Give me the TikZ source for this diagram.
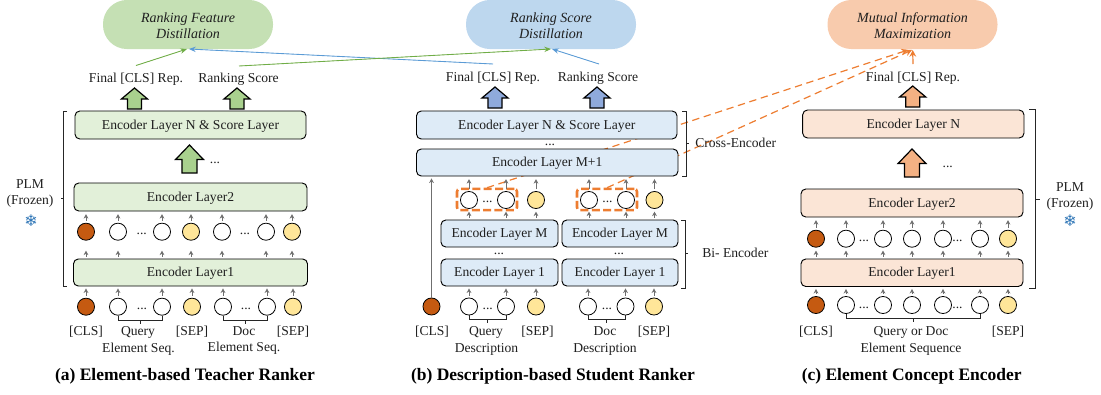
\documentclass[tikz,border=0pt]{standalone}
\usepackage{fontspec}
\setmainfont{Liberation Serif}
\newfontfamily\symfont{DejaVu Sans}
\usetikzlibrary{arrows.meta,calc}
\definecolor{txt}{HTML}{1F1F1F}
\definecolor{gpill}{HTML}{C5E0B4}\definecolor{gbox}{HTML}{E2F0D9}\definecolor{garr}{HTML}{A9D18E}\definecolor{gline}{HTML}{70AD47}
\definecolor{bpill}{HTML}{BDD7EE}\definecolor{bbox}{HTML}{DEEBF7}\definecolor{barr}{HTML}{8FAADC}\definecolor{bline}{HTML}{5B9BD5}
\definecolor{opill}{HTML}{F8CBAD}\definecolor{obox}{HTML}{FBE5D6}\definecolor{oarr}{HTML}{F4B183}\definecolor{oline}{HTML}{ED7D31}
\definecolor{clsc}{HTML}{C55A11}\definecolor{sepc}{HTML}{FFE699}\definecolor{tgray}{HTML}{6F6F6F}\definecolor{flakec}{HTML}{2E75B6}
\newcommand{\blockarr}[5]{%
  \draw[line width=.9pt,fill=#5] (#1,#2) -- (#1+#3,#2+#4*.52) -- (#1+#3*.54,#2+#4*.52) -- (#1+#3*.54,#2+#4) -- (#1-#3*.54,#2+#4) -- (#1-#3*.54,#2+#4*.52) -- (#1-#3,#2+#4*.52) -- cycle;}
\newcommand{\boxat}[6]{\node[enc,fill=#6,minimum width=(#3-#2)*.75pt,minimum height=(#5-#4)*.75pt] (#1) at ({(#2+#3)/2},{(#4+#5)/2}) {\strut};}
\newcommand{\pilltop}{\rule{0pt}{9.8pt}}
\tikzset{
 x=.75pt,y=-.75pt,
 lab/.style={inner sep=0pt,text=txt,font=\fontsize{10.2}{11}\selectfont,text height=6.6pt,text depth=2pt,align=center,yshift=-.8pt},
 enc/.style={draw=black,line width=.7pt,rounded corners=3.6pt,inner sep=0pt,text=txt,font=\fontsize{9.6}{11}\selectfont},
 pill/.style={rounded corners=18pt,inner sep=0pt,text=txt,align=center,font=\fontsize{10.5}{12}\selectfont\itshape},
 tok/.style={circle,draw=black,line width=.6pt,minimum size=12.8pt,inner sep=0pt},
 el/.style={tok,fill=white},
 cls/.style={tok,fill=clsc},
 sep/.style={tok,fill=sepc},
 tarrow/.style={draw=tgray,line width=.75pt,-{Stealth[length=3.4pt,width=3.6pt]},shorten <=1.5pt,shorten >=1.5pt},
 brk/.style={draw=black!85,line width=.6pt},
 dash box/.style={draw=oline,line width=1.9pt,dash pattern=on 6pt off 2.5pt,rounded corners=2pt},
 odash/.style={draw=oline,line width=.9pt,dash pattern=on 5.5pt off 3.5pt,-{Stealth[length=5pt,width=5pt]}},
 thinl/.style={line width=.65pt,-{Stealth[length=5pt,width=4pt]}},
 title/.style={inner sep=0pt,text=black,font=\fontsize{13.1}{15}\selectfont\bfseries},
 flake/.style={inner sep=0pt,text=flakec,font=\symfont\fontsize{12}{14}\selectfont},
}
\begin{document}
\begin{tikzpicture}
\useasboundingbox (0,0) rectangle (1101,394);
% pills
\node[pill,fill=gpill,minimum width=127.5pt,minimum height=36.8pt] (pa) at (188,24.5) {\pilltop Ranking Feature\\Distillation};
\node[pill,fill=bpill,minimum width=127.5pt,minimum height=36.8pt] (pb) at (551,24.5) {\pilltop Ranking Score\\Distillation};
\node[pill,fill=opill,minimum width=127.5pt,minimum height=36.8pt] (pc) at (912.5,24.5) {\pilltop Mutual Information\\Maximization};
% labels on top
\node[lab] (fa) at (136,78) {Final [CLS] Rep.};
\node[lab] (ra) at (238.5,78) {Ranking Score};
\node[lab] (fb) at (493,77) {Final [CLS] Rep.};
\node[lab] (rb) at (598,77) {Ranking Score};
\node[lab] (fc) at (913,77) {Final [CLS] Rep.};
\coordinate (fat) at (136,65.5);
\coordinate (rat) at (239,66);
\coordinate (fbt) at (493,64);
\coordinate (rbt) at (599,64);
\coordinate (fct) at (913,64);
\coordinate (ta) at (187,49);
\coordinate (ta2) at (189,49);
\coordinate (tb) at (551,49);
\coordinate (tb2) at (552,49);
\draw[thinl,draw=gline,fill=gline] (fat) -- (ta);
\draw[thinl,draw=bline,fill=bline] (fbt) -- (ta2);
\draw[thinl,draw=gline,fill=gline] (rat) -- (tb);
\draw[thinl,draw=bline,fill=bline] (rbt) -- (tb2);
% orange dashed, behind the boxes
\node[dash box,minimum width=45pt,minimum height=15.8pt,inner sep=0pt] (da) at (487,199.5) {};
\node[dash box,minimum width=45pt,minimum height=15.8pt,inner sep=0pt] (db) at (607,199.5) {};
\coordinate (mi1) at (908,50);
\coordinate (mi2) at (912,50);
\coordinate (mi3) at (912.7,50);
\draw[odash] (da.north) -- (mi1);
\draw[odash] (db.north) -- (mi2);
\draw[draw=oline,line width=.9pt,-{Stealth[length=5pt,width=5pt]}] (fct) -- (mi3);
% ---------- panel a
\blockarr{134.5}{88}{13}{21}{garr}
\blockarr{237}{88}{13}{21}{garr}
\blockarr{189.5}{145}{14}{28}{garr}
\boxat{an}{75}{306}{111}{139}{gbox}
\node[lab] (tan) at (an) {Encoder Layer N \& Score Layer};
\node[lab] (adots) at (215,159) {...};
\boxat{a2}{74}{307}{183}{211}{gbox}
\node[lab] (ta2t) at (a2) {Encoder Layer2};
\boxat{a1}{73.5}{307.5}{259}{286}{gbox}
\node[lab] (ta1t) at (a1) {Encoder Layer1};
\foreach \n/\x/\s in {1/86/cls,2/118/el,3/162/el,4/191/sep,5/222/el,6/266/el,7/292/sep}{
  \node[\s] (ar\n) at (\x,231.7) {};
  \draw[tarrow,shorten >=2pt] (ar\n.north) -- (ar\n.north |- a2.south);
  \draw[tarrow,shorten >=7.5pt] (ar\n.south |- a1.north) -- (ar\n.south);
}
\foreach \n/\x/\s in {1/86/cls,2/118/el,3/162/el,4/192/sep,5/223/el,6/267/el,7/293/sep}{
  \node[\s] (as\n) at (\x,306.7) {};
  \draw[tarrow] (as\n.north) -- (as\n.north |- a1.south);
}
\foreach \n/\x/\y in {1/141.7/232,2/245/232,3/142/307,4/246/307}{\node[lab] (adt\n) at (\x,\y-2) {...};}
\draw[brk] (as2.south) -- ++(0,5) -| (as3.south);
\draw[brk] (as5.south) -- ++(0,5) -| (as6.south);
\draw[brk] ($(as2.south)!.5!(as3.south)+(0,5)$) -- ++(0,3.5);
\draw[brk] ($(as5.south)!.5!(as6.south)+(0,5)$) -- ++(0,3.5);
\node[lab] (l1) at (86,331) {[CLS]};
\node[lab] (l2) at (138,331) {Query};
\node[lab] (l3) at (138.5,348) {Element Seq.};
\node[lab] (l4) at (192,331) {[SEP]};
\node[lab] (l5) at (244,331) {Doc};
\node[lab] (l6) at (244,347) {Element Seq.};
\node[lab] (l7) at (293,331) {[SEP]};
\node[title] (ttla) at (185,376) {(a) Element-based Teacher Ranker};
\coordinate (bka) at (67,111); \coordinate (bkb) at (67,286);
\draw[brk,line width=.7pt] (bka) -- (63.5,111) -- (63.5,286) -- (bkb);
\draw[brk,line width=.7pt] (63.5,198) -- (60.5,198);
\node[lab] (plma) at (30,184) {PLM};
\node[lab] (froa) at (30,200) {(Frozen)};
\node[flake] (fla) at (31,221) {❄};
% ---------- panel b
\blockarr{495}{87}{13}{21}{barr}
\blockarr{597}{87}{13}{21}{barr}
\boxat{bn}{416.5}{677}{111}{139}{bbox}
\node[lab] (tbn) at (bn) {Encoder Layer N \& Score Layer};
\node[lab] (bdots) at (550,141) {...};
\boxat{bm}{416.5}{678}{149}{176}{bbox}
\node[lab] (tbm) at (bm) {Encoder Layer M+1};
\boxat{bq}{441}{558}{220}{247}{bbox}
\node[lab] (tbq) at (bq) {Encoder Layer M};
\boxat{bd}{562}{678}{220}{247}{bbox}
\node[lab] (tbd) at (bd) {Encoder Layer M};
\node[lab] (bd1) at (499,250) {...};
\node[lab] (bd2) at (619,250) {...};
\boxat{bq1}{441}{558}{259}{286}{bbox}
\node[lab] (tbq1) at (bq1) {Encoder Layer 1};
\boxat{bd1b}{562}{678}{259}{286}{bbox}
\node[lab] (tbd1) at (bd1b) {Encoder Layer 1};
\foreach \n/\x/\s/\b in {1/469/el/bq,2/506/el/bq,3/536/sep/bq,4/589/el/bd,5/626/el/bd,6/654.5/sep/bd}{
  \node[\s] (br\n) at (\x,200) {};
  \draw[tarrow,shorten >=2pt] (br\n.north) -- (br\n.north |- bm.south);
  \draw[tarrow,shorten >=2pt] (br\n.south |- \b.north) -- (br\n.south);
}
\node[lab] (bdr1) at (487.5,198) {...};
\node[lab] (bdr2) at (607.5,198) {...};
\node[cls] (bs0) at (431.5,306.5) {};
\draw[tarrow,shorten <=0pt] (bs0.north) -- (bs0.north |- bm.south);
\foreach \n/\x/\s/\b in {1/469/el/bq1,2/506/el/bq1,3/536/sep/bq1,4/588/el/bd1b,5/625.5/el/bd1b,6/654/sep/bd1b}{
  \node[\s] (bs\n) at (\x,306.5) {};
  \draw[tarrow] (bs\n.north) -- (bs\n.north |- \b.south);
}
\node[lab] (bds1) at (487.7,305) {...};
\node[lab] (bds2) at (607,305) {...};
\draw[brk] (bs1.south) -- ++(0,4) -| (bs2.south);
\draw[brk] (bs4.south) -- ++(0,4) -| (bs5.south);
\draw[brk] ($(bs1.south)!.5!(bs2.south)+(0,4)$) -- ++(0,3.5);
\draw[brk] ($(bs4.south)!.5!(bs5.south)+(0,4)$) -- ++(0,3.5);
\node[lab] (m1) at (432,331) {[CLS]};
\node[lab] (m2) at (486,331) {Query};
\node[lab] (m3) at (486.5,348) {Description};
\node[lab] (m4) at (537.5,331) {[SEP]};
\node[lab] (m5) at (605,331) {Doc};
\node[lab] (m6) at (605,348) {Description};
\node[lab] (m7) at (654,331) {[SEP]};
\node[title] (ttlb) at (553,376) {(b) Description-based Student Ranker};
\draw[brk,line width=.7pt] (682,111) -- (686,111) -- (686,176) -- (682,176);
\draw[brk,line width=.7pt] (686,143) -- (689,143);
\node[lab,anchor=west] (cross) at (695,143) {Cross-Encoder};
\draw[brk,line width=.7pt] (681,220) -- (685,220) -- (685,288) -- (681,288);
\draw[brk,line width=.7pt] (685,253) -- (688,253);
\node[lab,anchor=west] (bi) at (702,253) {Bi- Encoder};
% ---------- panel c
\blockarr{912.7}{86}{13}{21}{oarr}
\blockarr{912}{149}{14}{28}{oarr}
\boxat{cn}{802.7}{1024}{110}{138}{obox}
\node[lab] (tcn) at (cn) {Encoder Layer N};
\node[lab] (cdots) at (947.7,163) {...};
\boxat{c2}{801}{1023}{189}{217}{obox}
\node[lab] (tc2) at (c2) {Encoder Layer2};
\boxat{c1}{801}{1023}{259}{286.5}{obox}
\node[lab] (tc1) at (c1) {Encoder Layer1};
\foreach \n/\x/\s in {1/816/cls,2/846/el,3/883/el,4/912/el,5/943/el,6/980/el,7/1008/sep}{
  \node[\s] (cr\n) at (\x,238.7) {};
  \draw[tarrow,shorten >=2pt] (cr\n.north) -- (cr\n.north |- c2.south);
  \draw[tarrow,shorten >=2.2pt] (cr\n.south |- c1.north) -- (cr\n.south);
  \node[\s] (cs\n) at (\x,305) {};
  \draw[tarrow] (cs\n.north) -- (cs\n.north |- c1.south);
}
\foreach \n/\x/\y in {1/864/237,2/957.5/237,3/864/304,4/957.5/304}{\node[lab] (cdt\n) at (\x,\y) {...};}
\draw[brk] (cs2.south) -- ++(0,4.5) -| (cs6.south);
\draw[brk] ($(cs2.south)!.5!(cs6.south)+(0,4.5)$) -- ++(0,3.5);
\node[lab] (n1) at (816,331) {[CLS]};
\node[lab] (n2) at (911,331) {Query or Doc};
\node[lab] (n3) at (911,348) {Element Sequence};
\node[lab] (n4) at (1008,331) {[SEP]};
\node[title] (ttlc) at (911.7,376) {(c) Element Concept Encoder};
\draw[brk,line width=.7pt] (1029,109) -- (1035,109) -- (1035,288) -- (1029,288);
\draw[brk,line width=.7pt] (1035,199) -- (1040,199);
\node[lab] (plmc) at (1070,187) {PLM};
\node[lab] (froc) at (1070,203) {(Frozen)};
\node[flake] (flc) at (1070,221) {❄};
\end{tikzpicture}
\end{document}
